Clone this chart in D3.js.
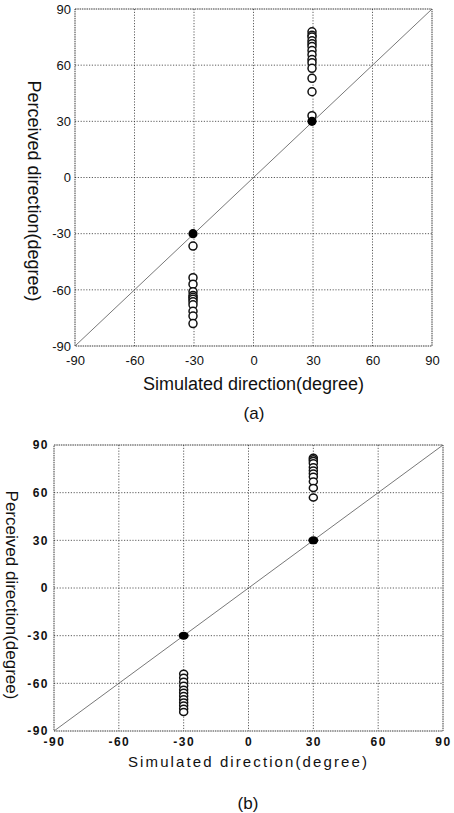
<!DOCTYPE html>
<html>
<head>
<meta charset="utf-8">
<script src="https://cdn.jsdelivr.net/npm/d3@7"></script>
<style>
  body { margin: 0; background: #fff; }
  svg { display: block; }
  .grid line { stroke: #333; stroke-width: 0.8; stroke-dasharray: 1.2,1.6; }
  .frame { fill: none; stroke: #222; stroke-width: 0.9; stroke-dasharray: 1.5,0.8; }
  .diag { stroke: #555; stroke-width: 0.8; }
  .open { fill: #fff; stroke: #111; stroke-width: 1.5; }
  .filled { fill: #000; }
</style>
</head>
<body>
<div id="chart"></div>
<script>
const width = 454
const height = 813

// ticks para ambos graficos
const tickValues = [-90, -60, -30, 0, 30, 60, 90]

// (a) direccion percibida para cada direccion simulada (circulos abiertos)
const aSimulated = [-30, 30]
const aOpenMinus30 = [-36.6, -53.5, -57, -61, -63, -64, -65, -66.3, -68, -71.5, -74, -78]
const aOpenPlus30 = [77.8, 76, 75, 73, 71.5, 70, 67.8, 65.6, 63, 61.3, 58.3, 53, 45.8, 33]
const aFilled = [-30, 30]

// (b)
const bSimulated = [-30, 30]
const bOpenMinus30 = [-54, -56.5, -59, -61.5, -64, -66, -68, -70, -72, -74, -76, -78]
const bOpenPlus30 = [82, 81, 80, 78.5, 76, 74, 72, 70, 67, 63, 57]
const bFilled = [-30, 30]

const svg = d3.select("#chart")
    .append("svg")
    .attr("width", width)
    .attr("height", height)

function drawPanel(p) {
    const g = svg.append("g")
    const x = d3.scaleLinear().domain([-90, 90]).range([p.left, p.right])
    const y = d3.scaleLinear().domain([-90, 90]).range([p.bottom, p.top])

    // rejilla
    const grid = g.append("g").attr("class", "grid")
    grid.selectAll(".gx").data(tickValues.slice(1, -1)).join("line")
        .attr("x1", d => x(d)).attr("x2", d => x(d))
        .attr("y1", p.top).attr("y2", p.bottom)
    grid.selectAll(".gy").data(tickValues.slice(1, -1)).join("line")
        .attr("class", "gy")
        .attr("y1", d => y(d)).attr("y2", d => y(d))
        .attr("x1", p.left).attr("x2", p.right)

    g.append("rect").attr("class", "frame")
        .attr("x", p.left).attr("y", p.top)
        .attr("width", p.right - p.left).attr("height", p.bottom - p.top)

    // ejes con d3 (solo etiquetas), guion normal como en el original
    const fmt = d => String(d)
    const xAxis = d3.axisBottom(x).tickValues(tickValues).tickFormat(fmt).tickSize(0).tickPadding(p.xPad)
    const yAxis = d3.axisLeft(y).tickValues(tickValues).tickFormat(fmt).tickSize(0).tickPadding(p.yPad)
    const xg = g.append("g").attr("transform", `translate(0,${p.bottom})`).call(xAxis)
    const yg = g.append("g").attr("transform", `translate(${p.left},0)`).call(yAxis)
    for (const ag of [xg, yg]) {
        ag.select(".domain").remove()
        ag.selectAll("text")
            .attr("fill", "#111")
            .style("font-family", "Liberation Sans, Arial, sans-serif")
            .style("font-size", p.tickSize + "px")
            .style("font-weight", p.tickWeight)
            .style("letter-spacing", p.tickSpacing + "px")
    }

    // diagonal
    g.append("line").attr("class", "diag")
        .attr("x1", x(-90)).attr("y1", y(-90))
        .attr("x2", x(90)).attr("y2", y(90))

    // circulos abiertos
    const pts = []
    p.openMinus.forEach(v => pts.push([p.sim[0], v]))
    p.openPlus.forEach(v => pts.push([p.sim[1], v]))
    g.selectAll(".open").data(pts).join("ellipse")
        .attr("class", "open")
        .attr("cx", d => x(d[0]) + p.dx)
        .attr("cy", d => y(d[1]))
        .attr("rx", p.rx).attr("ry", p.ry)

    // circulos rellenos
    g.selectAll(".filled").data(p.filled).join("ellipse")
        .attr("class", "filled")
        .attr("cx", d => x(d) + p.dx)
        .attr("cy", d => y(d))
        .attr("rx", p.frx).attr("ry", p.fry)

    // etiquetas
    g.append("text")
        .attr("x", (p.left + p.right) / 2).attr("y", p.xLabelY)
        .attr("text-anchor", "middle")
        .style("font-family", "Liberation Sans, Arial, sans-serif")
        .style("font-size", p.xLabelSize + "px")
        .style("letter-spacing", p.labelSpacing + "px")
        .attr("fill", "#111")
        .text("Simulated direction(degree)")
    g.append("text")
        .attr("transform", `translate(${p.yLabelX},${p.yLabelY}) rotate(90)`)
        .attr("text-anchor", "middle")
        .style("font-family", "Liberation Sans, Arial, sans-serif")
        .style("font-size", p.yLabelSize + "px")
        .attr("fill", "#111")
        .text("Perceived direction(degree)")
    g.append("text")
        .attr("x", p.capX).attr("y", p.capY)
        .attr("text-anchor", "middle")
        .style("font-family", "Liberation Sans Narrow, Liberation Sans, Arial, sans-serif")
        .style("font-size", "17px")
        .attr("fill", "#111")
        .text(p.caption)
}

drawPanel({
    left: 75, right: 432, top: 9, bottom: 346,
    sim: aSimulated, openMinus: aOpenMinus30, openPlus: aOpenPlus30, filled: aFilled,
    dx: -1, rx: 4, ry: 4, frx: 4.6, fry: 4.6,
    xPad: 10, yPad: 4, tickSize: 13, tickWeight: "normal", tickSpacing: 0,
    xLabelSize: 18, yLabelSize: 18, labelSpacing: 0,
    xLabelY: 390, yLabelX: 28, yLabelY: 191,
    capX: 254, capY: 419, caption: "(a)"
})

drawPanel({
    left: 54, right: 443, top: 445, bottom: 731,
    sim: bSimulated, openMinus: bOpenMinus30, openPlus: bOpenPlus30, filled: bFilled,
    dx: 0, rx: 4, ry: 3.5, frx: 5, fry: 4,
    xPad: 6, yPad: 5, tickSize: 12, tickWeight: "bold", tickSpacing: 1.5,
    xLabelSize: 15, yLabelSize: 17, labelSpacing: 2.1,
    xLabelY: 767, yLabelX: 6, yLabelY: 595,
    capX: 248, capY: 809, caption: "(b)"
})
</script>
</body>
</html>
